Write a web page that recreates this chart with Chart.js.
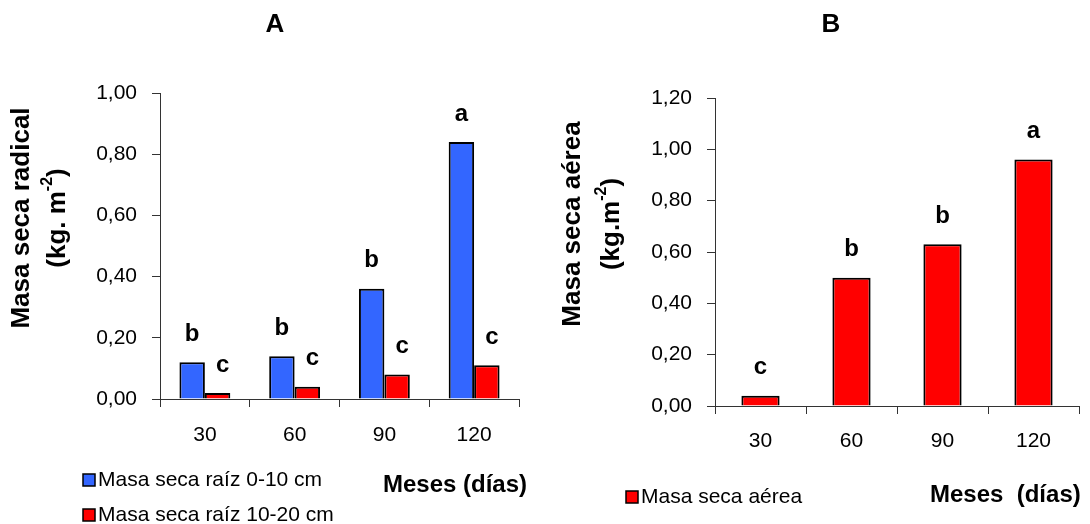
<!DOCTYPE html>
<html>
<head>
<meta charset="utf-8">
<script src="https://cdn.jsdelivr.net/npm/chart.js@4.4.0/dist/chart.umd.min.js"></script>
<style>
html, body { margin: 0; padding: 0; background: #fff; }
#wrap { position: relative; width: 1090px; height: 524px; overflow: hidden; }
#chartA { position: absolute; left: 0; top: 0; }
#chartB { position: absolute; left: 550px; top: 0; }
</style>
</head>
<body>
<div id="wrap">
  <canvas id="chartA" width="550" height="524"></canvas>
  <canvas id="chartB" width="540" height="524"></canvas>
</div>
<script>
// datos
var meses = ['30', '60', '90', '120'];
var raiz0a10 = [0.12, 0.14, 0.36, 0.84];
var raiz10a20 = [0.02, 0.04, 0.08, 0.11];
var letrasRaiz0a10 = ['b', 'b', 'b', 'a'];
var letrasRaiz10a20 = ['c', 'c', 'c', 'c'];
var aerea = [0.04, 0.50, 0.63, 0.96];
var letrasAerea = ['c', 'b', 'b', 'a'];

var FAMILIA = '"Liberation Sans", Arial, sans-serif';
Chart.defaults.font.family = FAMILIA;
Chart.defaults.color = '#000';

var formatoComa = function (v) {
    return v.toFixed(2).replace('.', ',');
};

// dibuja texto girado -90 con partes en superindice
function textoVertical(ctx, partes, x, y, size) {
    ctx.save();
    ctx.translate(x, y);
    ctx.rotate(-Math.PI / 2);
    ctx.textAlign = 'left';
    ctx.textBaseline = 'middle';
    var total = 0;
    partes.forEach(function (p) {
        ctx.font = 'bold ' + (p[1] ? Math.round(size * 0.6) : size) + 'px ' + FAMILIA;
        total += ctx.measureText(p[0]).width;
    });
    var cx = -total / 2;
    partes.forEach(function (p) {
        ctx.font = 'bold ' + (p[1] ? Math.round(size * 0.6) : size) + 'px ' + FAMILIA;
        ctx.fillText(p[0], cx, p[1] ? -size * 0.4 : 0);
        cx += ctx.measureText(p[0]).width;
    });
    ctx.restore();
}

var textosPlugin = {
    id: 'textos',
    afterDatasetsDraw: function (chart) {
        var o = chart.options.plugins.textos;
        var ctx = chart.ctx;
        var area = chart.chartArea;
        ctx.save();
        ctx.fillStyle = '#000';

        // letras sobre las barras
        ctx.font = 'bold 24px ' + FAMILIA;
        ctx.textAlign = 'center';
        ctx.textBaseline = 'middle';
        chart.data.datasets.forEach(function (ds, i) {
            var meta = chart.getDatasetMeta(i);
            meta.data.forEach(function (bar, j) {
                ctx.fillText(ds.letras[j], bar.x + (o.letraDx[i] || 0), bar.y - 28);
            });
        });

        // titulo del panel
        ctx.font = 'bold 26px ' + FAMILIA;
        ctx.fillText(o.titulo, o.tituloX, 25);

        // titulo eje y
        var cy = (area.top + area.bottom) / 2 - 28;
        o.yTitulo.forEach(function (linea) {
            textoVertical(ctx, linea.partes, linea.x, cy, 26);
        });

        // titulo eje x
        ctx.font = 'bold 24px ' + FAMILIA;
        ctx.textAlign = 'left';
        ctx.fillText(o.xTitulo, o.xTituloX, o.xTituloY);

        // leyenda
        ctx.font = '21px ' + FAMILIA;
        chart.data.datasets.forEach(function (ds, i) {
            var y = o.leyendaY[i];
            ctx.fillStyle = ds.backgroundColor;
            ctx.fillRect(o.leyendaX, y - 6, 12, 12);
            ctx.strokeStyle = '#000';
            ctx.lineWidth = 1.5;
            ctx.strokeRect(o.leyendaX, y - 6, 12, 12);
            ctx.fillStyle = '#000';
            ctx.fillText(ds.label, o.leyendaX + 15, y);
        });
        ctx.restore();
    }
};

function escalas(yMax, yWidth, tickPadX) {
    var rejilla = { drawOnChartArea: false, tickLength: 8, color: '#333', tickColor: '#333' };
    return {
        x: {
            grid: rejilla,
            border: { color: '#333', width: 1 },
            ticks: { font: { size: 21 }, padding: tickPadX, color: '#000' },
            afterFit: function (s) { s.height = 60; }
        },
        y: {
            min: 0,
            max: yMax,
            grid: rejilla,
            border: { color: '#333', width: 1 },
            ticks: {
                stepSize: 0.2,
                font: { size: 21 },
                padding: 15,
                color: '#000',
                callback: formatoComa
            },
            afterFit: function (s) { s.width = yWidth; }
        }
    };
}

var chartA = new Chart(document.getElementById('chartA'), {
    type: 'bar',
    data: {
        labels: meses,
        datasets: [
            {
                label: 'Masa seca raíz 0-10 cm',
                data: raiz0a10,
                letras: letrasRaiz0a10,
                backgroundColor: '#3366FF',
                borderColor: '#000',
                borderWidth: 2,
                categoryPercentage: 0.567,
                barPercentage: 1
            },
            {
                label: 'Masa seca raíz 10-20 cm',
                data: raiz10a20,
                letras: letrasRaiz10a20,
                backgroundColor: '#FF0000',
                borderColor: '#000',
                borderWidth: 2,
                categoryPercentage: 0.567,
                barPercentage: 1
            }
        ]
    },
    options: {
        responsive: false,
        animation: false,
        layout: { padding: { top: 93, right: 31, bottom: 65, left: 0 } },
        plugins: {
            legend: { display: false },
            tooltip: { enabled: false },
            textos: {
                titulo: 'A',
                tituloX: 275,
                letraDx: [0, 5],
                yTitulo: [
                    { x: 22, partes: [['Masa seca radical']] },
                    { x: 58, partes: [['(kg. m'], ['-2', true], [')']] }
                ],
                xTitulo: 'Meses (días)',
                xTituloX: 383,
                xTituloY: 485,
                leyendaX: 83,
                leyendaY: [480, 515]
            }
        },
        scales: escalas(1.0, 160, 16)
    },
    plugins: [textosPlugin]
});

var chartB = new Chart(document.getElementById('chartB'), {
    type: 'bar',
    data: {
        labels: meses,
        datasets: [
            {
                label: 'Masa seca aérea',
                data: aerea,
                letras: letrasAerea,
                backgroundColor: '#FF0000',
                borderColor: '#000',
                borderWidth: 2,
                categoryPercentage: 0.42,
                barPercentage: 1
            }
        ]
    },
    options: {
        responsive: false,
        animation: false,
        layout: { padding: { top: 98, right: 11, bottom: 58, left: 0 } },
        plugins: {
            legend: { display: false },
            tooltip: { enabled: false },
            textos: {
                titulo: 'B',
                tituloX: 281,
                letraDx: [0],
                yTitulo: [
                    { x: 23, partes: [['Masa seca aérea']] },
                    { x: 62, partes: [['(kg.m'], ['-2', true], [')']] }
                ],
                xTitulo: 'Meses  (días)',
                xTituloX: 380,
                xTituloY: 495,
                leyendaX: 76,
                leyendaY: [497]
            }
        },
        scales: escalas(1.2, 165, 15)
    },
    plugins: [textosPlugin]
});
</script>
</body>
</html>
